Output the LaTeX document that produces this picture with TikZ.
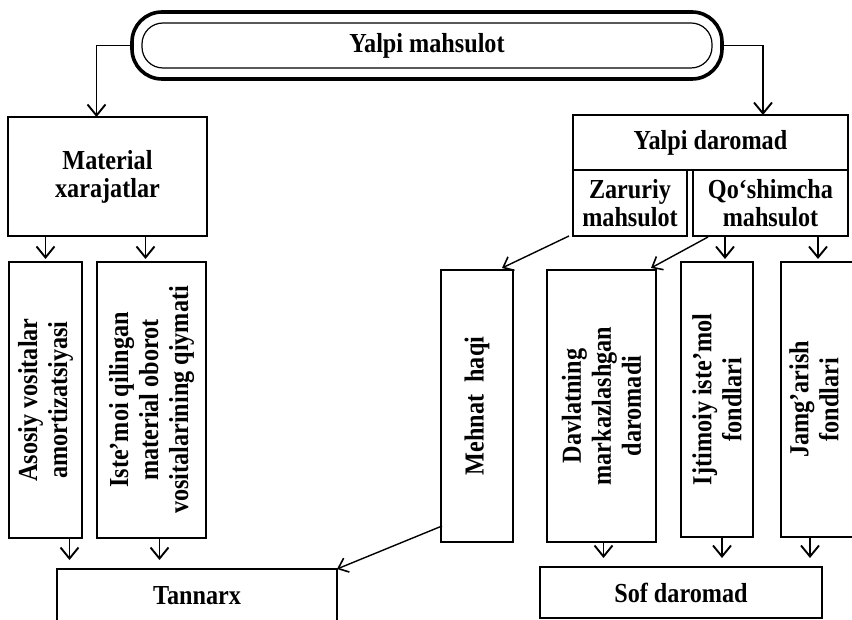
\documentclass[tikz,border=0pt]{standalone}
\usepackage{fontspec}
\setmainfont{Liberation Serif}[FakeStretch=0.88]
\usetikzlibrary{arrows.meta,calc}
\begin{document}
\begin{tikzpicture}[x=1pt,y=-1pt,
  every node/.style={font=\fontsize{27.5}{28}\selectfont\bfseries, inner sep=0pt, outer sep=0pt},
  box/.style={draw, line width=1.5pt, align=center},
  vtxt/.style={rotate=90, align=center, font=\fontsize{27.5}{30}\selectfont\bfseries},
  arr/.style={line width=1.7pt, -{Straight Barb[length=11pt,width=18pt,line width=1.9pt]}},
  darr/.style={line width=1.4pt, -{Straight Barb[length=9pt,width=15pt,line width=1.6pt]}}]
\useasboundingbox (0,0) rectangle (852,620);

% top box
\node[draw, line width=3.6pt, rounded corners=30pt, minimum width=590pt, minimum height=67pt] (top) at (427,45.5) {Yalpi mahsulot};
\draw[line width=1.2pt, rounded corners=21pt] ($(top.north west)+(10,11)$) rectangle ($(top.south east)+(-10,-11)$);

% left branch
\node[box, minimum width=199pt, minimum height=119pt] (mat) at (107.5,176.5) {Material\\xarajatlar};
\node[box, minimum width=73pt, minimum height=276pt] (asos) at (45.5,400) {};
\node[vtxt] (asost) at (asos.center) {Asosiy vositalar\\amortizatsiyasi};
\node[box, minimum width=109pt, minimum height=276pt] (iste) at (151.5,400) {};
\node[vtxt] (istet) at (iste.center) {Iste'moi qilingan\\material oborot\\vositalarining qiymati};
\node[box, minimum width=280pt, minimum height=53pt] (tan) at (197,595.5) {Tannarx};

% right branch
\node[box, minimum width=275pt, minimum height=55pt] (yd) at (710.5,142.5) {Yalpi daromad};
\node[box, minimum width=114pt, minimum height=66pt] (zar) at (630,203) {Zaruriy\\mahsulot};
\node[box, minimum width=155pt, minimum height=66pt] (qos) at (770.5,203) {Qo‘shimcha\\mahsulot};
\node[box, minimum width=72pt, minimum height=272pt] (meh) at (477,406) {};
\node[vtxt] (meht) at (meh.center) {Mehnat\ \ haqi};
\node[box, minimum width=109pt, minimum height=272pt] (dav) at (601.5,406) {};
\node[vtxt] (davt) at (dav.center) {Davlatning\\markazlashgan\\daromadi};
\node[box, minimum width=72pt, minimum height=275pt] (ijt) at (717,399.5) {};
\node[vtxt] (ijtt) at (ijt.center) {Ijtimoiy iste'mol\\fondlari};
\node[box, minimum width=80pt, minimum height=275pt] (jam) at (821,399.5) {};
\node[vtxt] (jamt) at (814,399.5) {Jamg'arish\\fondlari};
\node[box, minimum width=282pt, minimum height=51pt] (sof) at (681,592.5) {Sof daromad};

% connectors from top
\draw[arr] (top.west) -| ($(mat.north)+(-11,0)$);
\draw[arr] (top.east) -| ($(yd.north)+(52.5,0)$);

% material to its parts
\draw[arr, shorten >=3pt] (mat.south -| asos.north) -- (asos.north);
\coordinate (m2) at ($(iste.north)+(-6,0)$);
\draw[arr, shorten >=3pt] (m2 |- mat.south) -- (m2);

% to Tannarx
\coordinate (a1) at ($(asos.south)+(24,0)$);
\draw[arr, shorten >=9pt] (a1) -- (a1 |- tan.north);
\coordinate (a2) at ($(iste.south)+(8,0)$);
\draw[arr, shorten >=9pt] (a2) -- (a2 |- tan.north);
\draw[darr] ($(meh.south west)+(1,-16)$) -- (tan.north east);

% from Zaruriy / Qo'shimcha
\draw[darr] ($(zar.south west)+(-4,0)$) -- ($(meh.north east)+(-11,-2)$);
\draw[darr] ($(qos.south west)+(15,1)$) -- ($(dav.north east)+(-5,-2)$);
\coordinate (q1) at ($(qos.south)+(-45.5,0)$);
\draw[arr, shorten >=3pt] (q1) -- (q1 |- ijt.north);
\coordinate (q2) at ($(qos.south)+(47.5,0)$);
\draw[arr, shorten >=3pt] (q2) -- (q2 |- jam.north);

% to Sof daromad
\coordinate (b1) at ($(dav.south)+(2,0)$);
\draw[arr, shorten >=9pt] (b1) -- (b1 |- sof.north);
\coordinate (b2) at ($(ijt.south)+(5,0)$);
\draw[arr, shorten >=9pt] (b2) -- (b2 |- sof.north);
\coordinate (b3) at ($(jam.south)+(-11,0)$);
\draw[arr, shorten >=9pt] (b3) -- (b3 |- sof.north);
\end{tikzpicture}
\end{document}
